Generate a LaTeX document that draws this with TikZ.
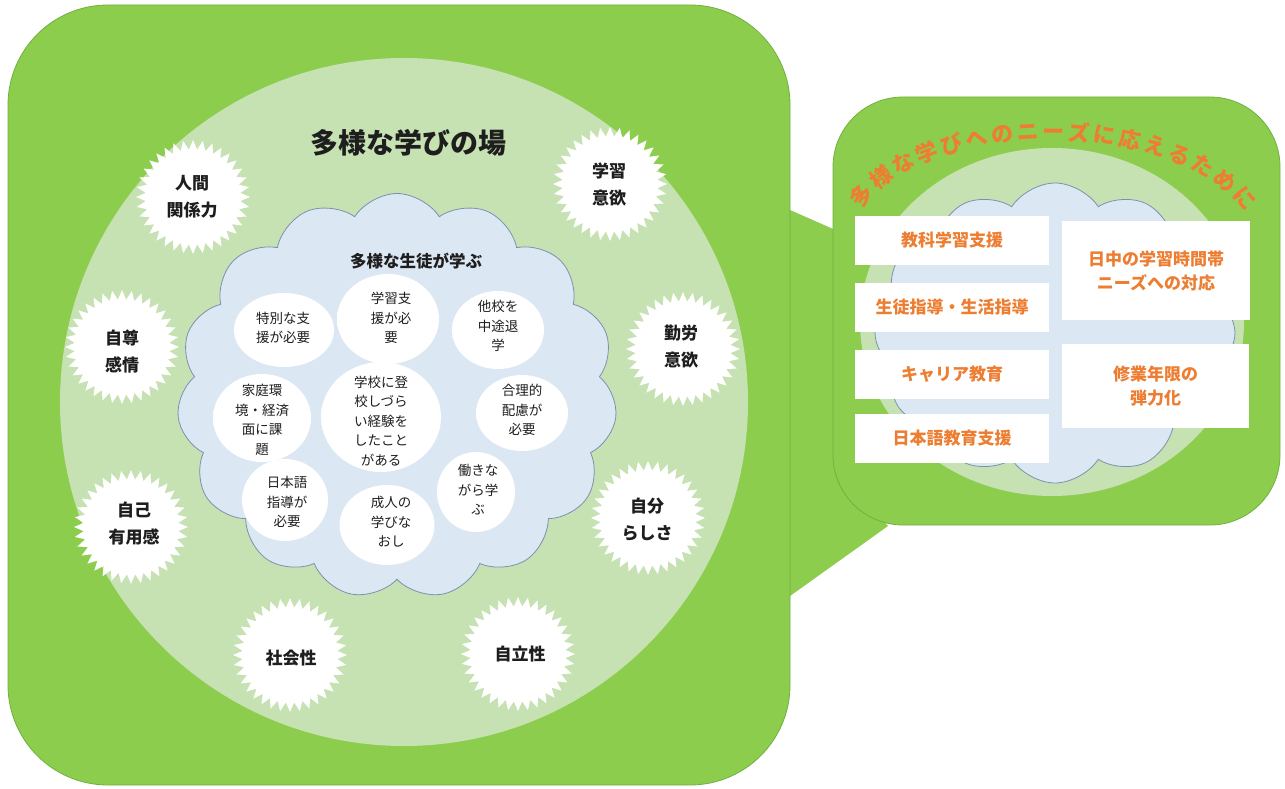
\documentclass[tikz,border=0pt]{standalone}
\usepackage{fontspec}
\setmainfont{Noto Sans CJK JP}
\usetikzlibrary{shapes.geometric,shapes.symbols,decorations.text}
\definecolor{biggreen}{RGB}{141,205,78}
\definecolor{edgegreen}{RGB}{112,176,62}
\definecolor{lightgreen}{RGB}{198,225,178}
\definecolor{cloudfill}{RGB}{220,231,244}
\definecolor{cloudline}{RGB}{125,145,175}
\definecolor{orangec}{RGB}{237,125,49}
\definecolor{textdark}{RGB}{30,30,30}
\newcommand\fs[2]{\fontsize{#1}{#2}\selectfont}
\pgfdeclareradialshading{glow}{\pgfpoint{0bp}{0bp}}{color(0bp)=(white); color(37bp)=(white); color(50bp)=(cloudfill)}
\tikzset{
 burst/.style={star, star points=36, star point ratio=1.2, fill=white, minimum size=114pt, inner sep=0pt},
 bursttext/.style={font=\bfseries\fs{17}{27}, align=center, text=textdark},
 glowell/.style={ellipse, shading=glow, inner sep=0pt},
 elltext/.style={font=\fs{13.5}{19.5}, align=center, text=textdark},
 needbox/.style={fill=white, inner sep=0pt, align=center, text=orangec, font=\bfseries\fs{17}{24}},
 puffy/.style={cloud, cloud puff arc=115, draw=cloudline, fill=cloudfill, line width=0.8pt, inner sep=0pt}
}
\begin{document}
\begin{tikzpicture}[x=1pt,y=-1pt]
\useasboundingbox (0,0) rectangle (1285,789);
% connector
\fill[biggreen] (790,210) -- (840,232) -- (840,470) -- (888,526) -- (790,596) -- cycle;
% big box
\draw[fill=biggreen, draw=edgegreen, line width=0.8pt, rounded corners=100pt] (8,5) rectangle (790,785);
\fill[lightgreen] (404,402) circle (344);
% cloud
\node[puffy, cloud puffs=15, aspect=1.1, minimum width=440pt, minimum height=405pt] (cloud) at (397,396) {};
% starbursts
\node[burst] (b1) at (193,197) {};
\node[bursttext] (t1) at (192,197) {人間\\関係力};
\node[burst] (b2) at (610,184) {};
\node[bursttext] (t2) at (609,185) {学習\\意欲};
\node[burst] (b3) at (122,347) {};
\node[bursttext] (t3) at (122,351) {自尊\\感情};
\node[burst] (b4) at (683,349) {};
\node[bursttext] (t4) at (681,347) {勤労\\意欲};
\node[burst] (b5) at (131,527) {};
\node[bursttext] (t5) at (134,524) {自己\\有用感};
\node[burst] (b6) at (648,518) {};
\node[bursttext] (t6) at (647,520) {自分\\らしさ};
\node[burst] (b7) at (290,655) {};
\node[bursttext] (t7) at (291,658) {社会性};
\node[burst] (b8) at (518,654) {};
\node[bursttext] (t8) at (520,654) {自立性};
% titles
\node[font=\bfseries\fs{28}{28}, text=textdark] (title) at (408,143) {多様な学びの場};
\node[font=\bfseries\fs{16.5}{20}, text=textdark] (sub) at (416,261) {多様な生徒が学ぶ};
% ellipses
\node[glowell, minimum width=100pt, minimum height=74pt] (e1) at (284,330) {};
\node[elltext] at (283,328) {特別な支\\援が必要};
\node[glowell, minimum width=102pt, minimum height=90pt] (e2) at (388,319) {};
\node[elltext] at (391,318) {学習支\\援が必\\要};
\node[glowell, minimum width=92pt, minimum height=78pt] (e3) at (498,330) {};
\node[elltext] at (498,326) {他校を\\中途退\\学};
\node[glowell, minimum width=98pt, minimum height=88pt] (e4) at (262,418) {};
\node[elltext] at (262,420) {家庭環\\境・経済\\面に課\\題};
\node[glowell, minimum width=120pt, minimum height=110pt] (e5) at (381,417) {};
\node[elltext] at (381,421) {学校に登\\校しづら\\い経験を\\したこと\\がある};
\node[glowell, minimum width=92pt, minimum height=76pt] (e6) at (522,413) {};
\node[elltext] at (522,410) {合理的\\配慮が\\必要};
\node[glowell, minimum width=86pt, minimum height=82pt] (e7) at (285,500) {};
\node[elltext] at (287,502) {日本語\\指導が\\必要};
\node[glowell, minimum width=95pt, minimum height=80pt] (e8) at (387,525) {};
\node[elltext] at (391,522) {成人の\\学びな\\おし};
\node[glowell, minimum width=78pt, minimum height=80pt] (e9) at (476,492) {};
\node[elltext] at (478,490) {働きな\\がら学\\ぶ};
% right box
\draw[fill=biggreen, draw=edgegreen, line width=0.8pt, rounded corners=70pt] (833,97) rectangle (1280,525);
\fill[lightgreen] (1052,322) ellipse (192 and 174);
\node[puffy, cloud puffs=12, aspect=1.2, minimum width=360pt, minimum height=300pt] (rcloud) at (1055,333) {};
\node[needbox, minimum width=194pt, minimum height=49pt] (n1) at (952,240.5) {教科学習支援};
\node[needbox, minimum width=194pt, minimum height=49pt] (n2) at (952,307.5) {生徒指導・生活指導};
\node[needbox, minimum width=194pt, minimum height=49pt] (n3) at (952,374) {キャリア教育};
\node[needbox, minimum width=194pt, minimum height=49pt] (n4) at (952,438.5) {日本語教育支援};
\node[needbox, minimum width=188pt, minimum height=99pt] (n5) at (1156,270.5) {日中の学習時間帯\\ニーズへの対応};
\node[needbox, minimum width=187pt, minimum height=84pt] (n6) at (1155.5,386) {修業年限の\\弾力化};
\path[decorate, decoration={text along path, text align=fit to path, text={|\bfseries\fs{22}{22}\color{orangec}|多様な学びへのニーズに応えるために}}] (861,210) .. controls (925,116) and (1175,116) .. (1246,212);
\end{tikzpicture}
\end{document}
